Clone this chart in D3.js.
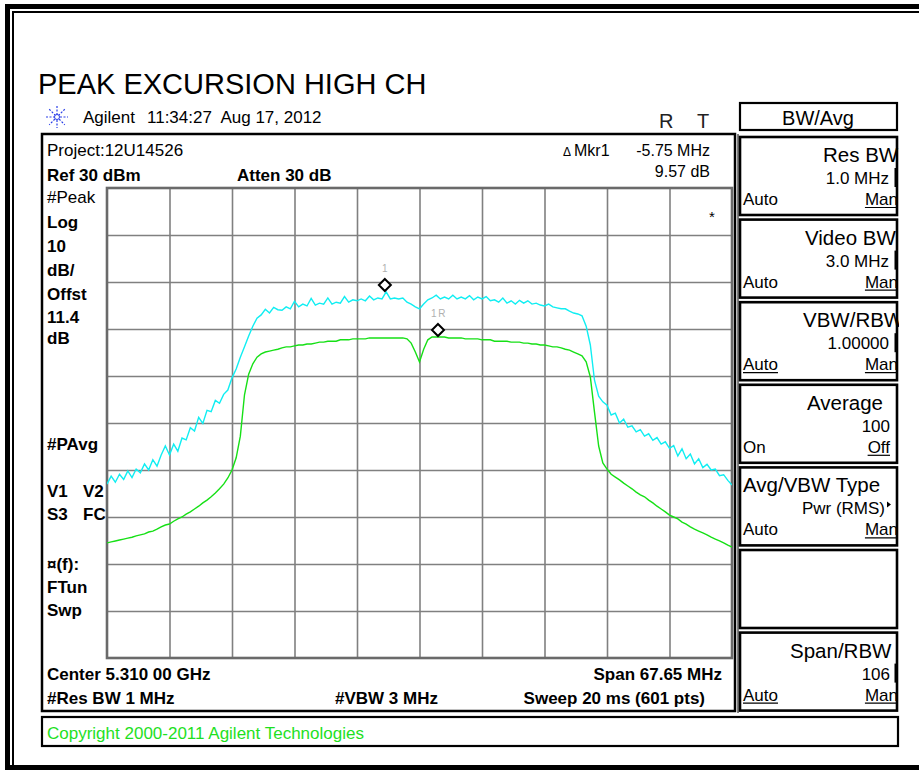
<!DOCTYPE html>
<html><head><meta charset="utf-8">
<script src="https://cdn.jsdelivr.net/npm/d3@7/dist/d3.min.js"></script>
<style>
html,body{margin:0;padding:0;background:#fff;}
svg{display:block;}
text{font-family:"Liberation Sans",Arial,Helvetica,sans-serif;}
</style></head><body>
<svg id="chart" width="919" height="770"></svg>
<script>
// ---------------- DATA ----------------
const titleText = "PEAK EXCURSION HIGH CH";
const centerMHz = 5310.00;
const spanMHz = 67.65;
const refLevelDbm = 30;
const dbPerDiv = 10;
const xDivisions = 10;
const yDivisions = 10;

// Peak-hold trace (cyan), dBm, 151 equally spaced samples across the span
const peakDbm = [
-33.0,-31.3,-32.6,-30.9,-32.0,-30.2,-31.6,-29.8,-30.6,-28.7,
-30.0,-27.8,-29.2,-26.8,-24.9,-26.8,-24.5,-26.0,-23.2,-23.6,
-21.0,-21.7,-18.8,-20.1,-17.3,-17.6,-15.2,-15.8,-13.9,-13.0,
-10.4,-8.5,-6.0,-3.8,-1.5,0.6,2.3,3.0,4.2,3.4,
4.6,4.1,4.0,4.7,4.3,5.9,4.7,5.3,4.9,6.5,
5.1,5.5,5.3,6.6,5.3,5.7,5.5,6.9,5.7,6.2,
6.0,6.4,6.0,7.0,6.2,6.6,6.4,7.9,6.4,6.6,
6.4,6.6,5.7,5.3,4.7,4.3,5.3,6.2,6.6,7.2,
6.4,6.8,6.4,7.2,6.4,6.8,6.4,7.1,6.2,6.8,
6.4,6.9,6.0,6.2,5.7,6.6,5.5,6.0,5.3,6.1,
5.5,6.0,5.3,5.5,5.1,4.9,5.3,4.7,4.5,4.3,
4.3,3.8,3.4,3.2,2.8,0.6,-3.4,-10.9,-14.3,-15.5,
-16.2,-18.3,-17.9,-20.0,-19.2,-20.9,-20.6,-21.9,-21.4,-22.8,
-22.3,-23.7,-23.1,-24.5,-24.0,-25.4,-24.8,-27.0,-25.5,-27.6,
-26.6,-28.7,-27.6,-29.5,-28.8,-30.0,-29.8,-31.2,-31.0,-32.2,-33.2];

// Power-average trace (green), dBm, 151 equally spaced samples across the span
const avgDbm = [
-45.5,-45.3,-45.1,-44.9,-44.7,-44.5,-44.3,-44.0,-43.8,-43.6,
-43.2,-43.0,-42.6,-42.1,-41.7,-41.5,-40.9,-40.4,-40.0,-39.4,
-38.9,-38.3,-37.7,-37.0,-36.4,-35.7,-34.9,-34.0,-33.0,-31.7,
-30.0,-27.4,-22.8,-14.0,-9.6,-7.4,-6.0,-5.3,-4.9,-4.7,
-4.5,-4.3,-4.0,-3.8,-3.8,-3.6,-3.4,-3.4,-3.2,-3.2,
-3.0,-2.8,-2.8,-2.6,-2.6,-2.6,-2.3,-2.3,-2.3,-2.1,
-2.1,-2.1,-2.1,-1.9,-1.9,-1.9,-1.9,-1.9,-1.9,-1.9,
-1.9,-1.9,-2.1,-3.0,-4.9,-7.0,-4.3,-2.3,-1.7,-1.7,
-1.7,-1.7,-1.9,-1.9,-1.9,-1.9,-2.1,-2.1,-2.1,-2.1,
-2.3,-2.3,-2.3,-2.6,-2.6,-2.6,-2.6,-2.8,-2.8,-2.8,
-3.0,-3.0,-3.2,-3.2,-3.4,-3.4,-3.6,-3.8,-3.8,-4.0,
-4.3,-4.5,-4.9,-5.3,-5.7,-7.0,-10.2,-17.7,-24.9,-28.5,
-29.8,-30.9,-31.5,-32.1,-32.8,-33.4,-34.0,-34.7,-35.3,-35.7,
-36.4,-37.0,-37.7,-38.3,-38.9,-39.6,-40.0,-40.4,-41.1,-41.5,
-42.1,-42.6,-43.0,-43.4,-43.8,-44.3,-44.7,-45.1,-45.5,-46.0,-46.4];

// Markers: offset from centre (MHz) and level (dBm)
const markerLabels = ["1", "1R"];
const markerOffsetMHz = [-3.75, 2.00];
const markerDbm = [7.87, -1.70];

const headerTexts = ["Agilent", "11:34:27  Aug 17, 2012"];
const statusTexts = ["R", "T"];
const projectText = "Project:12U14526";
const refText = "Ref 30 dBm";
const attenText = "Atten 30 dB";
const markerReadout = ["Δ", "Mkr1", "-5.75 MHz", "9.57 dB"];
const leftLabels = ["#Peak","Log","10","dB/","Offst","11.4","dB","#PAvg","V1","V2","S3","FC","¤(f):","FTun","Swp"];
const bottomTexts = ["Center 5.310 00 GHz","Span 67.65 MHz","#Res BW 1 MHz","#VBW 3 MHz","Sweep 20 ms (601 pts)"];
const copyrightText = "Copyright 2000-2011 Agilent Technologies";
const menuTitle = "BW/Avg";
const softkeyTitles = ["Res BW","Video BW","VBW/RBW","Average","Avg/VBW Type","","Span/RBW"];
const softkeyValues = ["1.0 MHz","3.0 MHz","1.00000","100","Pwr (RMS)","","106"];
const softkeyLeft = ["Auto","Auto","Auto","On","Auto","","Auto"];
const softkeyRight = ["Man","Man","Man","Off","Man","","Man"];

// ---------------- DRAW ----------------
const svg = d3.select("#chart");
const G = {l:107, r:732, t:188, b:658};

const x = d3.scaleLinear()
  .domain([centerMHz - spanMHz/2, centerMHz + spanMHz/2])
  .range([G.l, G.r]);
const y = d3.scaleLinear()
  .domain([refLevelDbm - dbPerDiv*yDivisions, refLevelDbm])
  .range([G.b, G.t]);

function txt(s, px, py, opts={}) {
  const t = svg.append("text").attr("x", px).attr("y", py).text(s)
    .attr("font-size", opts.size || 17)
    .attr("font-weight", opts.bold ? "bold" : "normal")
    .attr("fill", opts.fill || "#000")
    .attr("text-anchor", opts.anchor || "start")
    .style("white-space","pre");
  if (opts.clip) t.attr("clip-path", opts.clip);
  return t;
}

// outer frame
svg.append("rect").attr("x",7.5).attr("y",6.5).attr("width",940).attr("height",761)
  .attr("fill","none").attr("stroke","#000").attr("stroke-width",5);
svg.append("path").attr("d","M13,766 V12 H919").attr("fill","none").attr("stroke","#000").attr("stroke-width",2);

// title
txt(titleText, 38, 94, {size:29});

// Agilent logo (starburst)
const logo = svg.append("g").attr("transform","translate(57,117)");
[0,45,90,135].forEach(a=>{
  logo.append("line").attr("x1",-11).attr("x2",11).attr("y1",0).attr("y2",0)
    .attr("transform",`rotate(${a})`).attr("stroke","#2a3fe8").attr("stroke-width",1.2)
    .attr("stroke-dasharray","2,1.5");
});
logo.append("circle").attr("r",2.5).attr("fill","#fff").attr("stroke","#2a3fe8").attr("stroke-width",1);
txt(headerTexts[0], 83, 123, {size:17});
txt(headerTexts[1], 147, 123, {size:17});
txt(statusTexts[0], 659, 128, {size:20, fill:"#222"});
txt(statusTexts[1], 697, 128, {size:20, fill:"#222"});

// measurement panel
svg.append("rect").attr("x",42).attr("y",134).attr("width",693).attr("height",577)
  .attr("fill","none").attr("stroke","#000").attr("stroke-width",2.5);
svg.append("line").attr("x1",738).attr("x2",738).attr("y1",134).attr("y2",713)
  .attr("stroke","#555").attr("stroke-width",1.5);

// grid
const gridG = svg.append("g");
const xTicks = d3.range(xDivisions+1).map(i => x.domain()[0] + i*spanMHz/xDivisions);
const yTicks = d3.range(yDivisions+1).map(i => y.domain()[0] + i*dbPerDiv);
gridG.append("g").attr("transform",`translate(0,${G.b})`)
  .call(d3.axisBottom(x).tickValues(xTicks.slice(1,-1)).tickSize(-(G.b-G.t)).tickFormat(""))
  .call(g=>g.select(".domain").remove())
  .call(g=>g.selectAll("line").attr("stroke","#808080").attr("stroke-width",1.6));
gridG.append("g").attr("transform",`translate(${G.l},0)`)
  .call(d3.axisLeft(y).tickValues(yTicks.slice(1,-1)).tickSize(-(G.r-G.l)).tickFormat(""))
  .call(g=>g.select(".domain").remove())
  .call(g=>g.selectAll("line").attr("stroke","#808080").attr("stroke-width",1.6));
gridG.append("rect").attr("x",G.l).attr("y",G.t).attr("width",G.r-G.l).attr("height",G.b-G.t)
  .attr("fill","none").attr("stroke","#6a6a6a").attr("stroke-width",2.6);

// traces
svg.append("clipPath").attr("id","plotclip").append("rect")
  .attr("x",G.l).attr("y",G.t).attr("width",G.r-G.l).attr("height",G.b-G.t);
function freqAt(i, n){ return x.domain()[0] + i*spanMHz/(n-1); }
const line = d3.line().x((d,i,arr)=>x(freqAt(i,arr.length))).y(d=>y(d));
const traces = svg.append("g").attr("clip-path","url(#plotclip)");
traces.append("path").datum(avgDbm).attr("d",line).attr("fill","none")
  .attr("stroke","#16e016").attr("stroke-width",1.4);
traces.append("path").datum(peakDbm).attr("d",line).attr("fill","none")
  .attr("stroke","#10eef2").attr("stroke-width",1.4);

// markers
markerLabels.forEach((lab,i)=>{
  const mx = x(centerMHz + markerOffsetMHz[i]);
  const my = y(markerDbm[i]) - 7;
  svg.append("path").attr("d",`M${mx},${my-6} L${mx+6},${my} L${mx},${my+6} L${mx-6},${my} Z`)
    .attr("fill","#fff").attr("stroke","#000").attr("stroke-width",2);
  svg.append("text").attr("x",mx + (i===0?0:1)).attr("y",my-13).text(lab)
    .attr("font-size",10).attr("fill","#b0b0b0").attr("text-anchor","middle")
    .attr("letter-spacing", i===0 ? 0 : 1.5);
});
txt("*", 709, 222, {size:15});

// panel texts
txt(projectText, 47, 156, {size:17});
txt(refText, 47, 181, {size:17, bold:true});
txt(attenText, 237, 181, {size:17, bold:true});
txt(markerReadout[0], 563, 156, {size:12});
txt(markerReadout[1], 574, 156, {size:16});
txt(markerReadout[2], 710, 156, {size:16, anchor:"end"});
txt(markerReadout[3], 710, 177, {size:16, anchor:"end"});

const leftY = [203,228,252,276,300,323,344,450,497,497,520,520,570,593,616];
const leftX = [47,47,47,47,47,47,47,47,47,83,47,83,47,47,47];
leftLabels.forEach((s,i)=>{
  txt(s, leftX[i], leftY[i], {size:17, bold: i!==0});
});

txt(bottomTexts[0], 47, 680, {size:17, bold:true});
txt(bottomTexts[1], 722, 680, {size:17, bold:true, anchor:"end"});
txt(bottomTexts[2], 47, 704, {size:17, bold:true});
txt(bottomTexts[3], 335, 704, {size:17, bold:true});
txt(bottomTexts[4], 705, 704, {size:17, bold:true, anchor:"end"});

// copyright box
svg.append("rect").attr("x",42).attr("y",717).attr("width",856).attr("height",29)
  .attr("fill","none").attr("stroke","#000").attr("stroke-width",2.2);
txt(copyrightText, 47, 739, {size:17, fill:"#1ee01e"});

// softkey menu
svg.append("clipPath").attr("id","menuclip").append("rect")
  .attr("x",738).attr("y",95).attr("width",161).attr("height",625);
svg.append("rect").attr("x",740).attr("y",103).attr("width",157).attr("height",27)
  .attr("fill","none").attr("stroke","#000").attr("stroke-width",2.2);
txt(menuTitle, 818, 125, {size:20, anchor:"middle"});

const titleX = [823,805,803,807,743,0,790];
softkeyTitles.forEach((tl,i)=>{
  const top = 137 + i*82.6;
  svg.append("rect").attr("x",740).attr("y",top).attr("width",157).attr("height",78)
    .attr("fill","none").attr("stroke","#000").attr("stroke-width",2.6);
  if (!tl) return;
  txt(tl, titleX[i], top+25, {size:20.5, clip:"url(#menuclip)"});
  const valEnd = i===4 ? 885 : (i===3 || i===6 ? 890 : 889);
  txt(softkeyValues[i], valEnd, top+47, {size:17, anchor:"end"});
  if (i===0 || i===1 || i===2 || i===6) {
    svg.append("rect").attr("x",894.5).attr("y",top+31).attr("width",2.2).attr("height",19).attr("fill","#000");
  }
  if (i===4) {
    svg.append("path").attr("d",`M887,${top+34} L891,${top+37} L887,${top+40} Z`).attr("fill","#000");
  }
  const lt = txt(softkeyLeft[i], 743, top+68, {size:17});
  const rEnd = i===3 ? 890 : 898;
  const rt = txt(softkeyRight[i], rEnd, top+68, {size:17, anchor:"end", clip:"url(#menuclip)"});
  const underlineLeft = (i===2 || i===6);
  if (underlineLeft) {
    const w = lt.node().getComputedTextLength();
    svg.append("line").attr("x1",743).attr("x2",743+w).attr("y1",top+70.5).attr("y2",top+70.5)
      .attr("stroke","#000").attr("stroke-width",1.2);
  }
  const w2 = rt.node().getComputedTextLength();
  svg.append("line").attr("x1",rEnd-w2).attr("x2",Math.min(rEnd,897)).attr("y1",top+70.5).attr("y2",top+70.5)
    .attr("stroke","#000").attr("stroke-width",1.2);
});
</script>
</body></html>
